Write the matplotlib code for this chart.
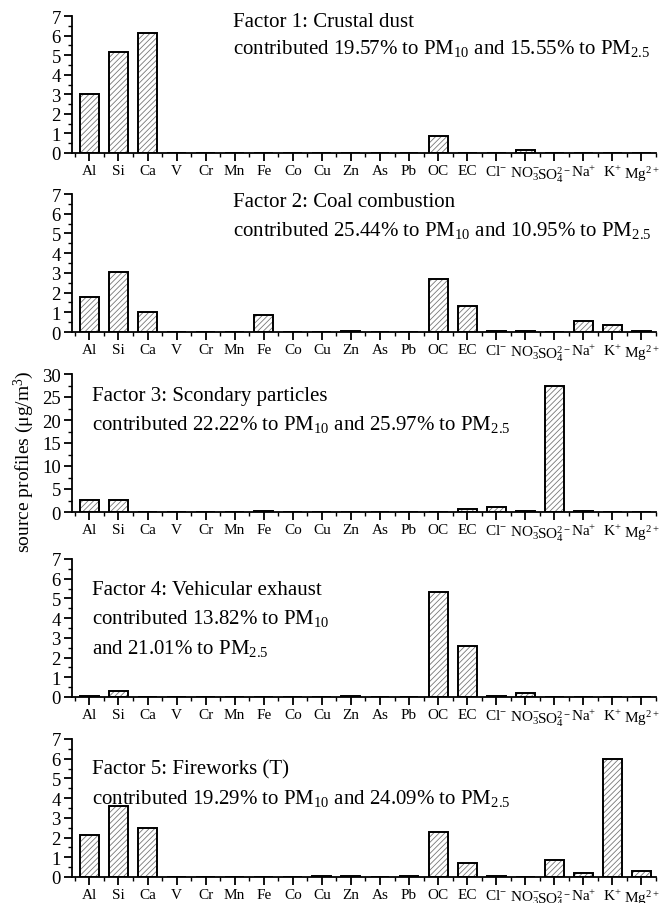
import matplotlib
matplotlib.use("Agg")
import matplotlib.pyplot as plt
import numpy as np

plt.rcParams['font.family'] = ['Liberation Serif', 'DejaVu Serif']
plt.rcParams['mathtext.fontset'] = 'custom'
plt.rcParams['mathtext.rm'] = 'Liberation Serif'
plt.rcParams['mathtext.it'] = 'Liberation Serif:italic'
plt.rcParams['hatch.linewidth'] = 0.6

species = ['Al', 'Si', 'Ca', 'V', 'Cr', 'Mn', 'Fe', 'Co', 'Cu', 'Zn', 'As', 'Pb',
           'OC', 'EC', 'Cl$^{-}$', 'NO$_3^{-}$', 'SO$_4^{2-}$', 'Na$^{+}$', 'K$^{+}$', 'Mg$^{2+}$']

#              Al    Si    Ca   V  Cr Mn  Fe    Co  Cu    Zn    As  Pb    OC    EC    Cl    NO3   SO4   Na    K     Mg
crustal    = [3.00, 5.15, 6.15, 0, 0, 0, 0.00, 0, 0.00, 0.00, 0, 0.00, 0.85, 0.00, 0.00, 0.15, 0.00, 0.00, 0.00, 0.00]
coal       = [1.80, 3.05, 1.00, 0, 0, 0, 0.85, 0, 0.00, 0.05, 0, 0.00, 2.70, 1.30, 0.05, 0.05, 0.00, 0.55, 0.38, 0.05]
secondary  = [2.60, 2.60, 0.00, 0, 0, 0, 0.30, 0, 0.00, 0.00, 0, 0.00, 0.00, 0.70, 1.00, 0.30, 27.3, 0.30, 0.00, 0.00]
vehicular  = [0.05, 0.30, 0.00, 0, 0, 0, 0.00, 0, 0.00, 0.05, 0, 0.00, 5.35, 2.60, 0.05, 0.22, 0.00, 0.00, 0.00, 0.00]
fireworks  = [2.15, 3.60, 2.50, 0, 0, 0, 0.00, 0, 0.05, 0.05, 0, 0.05, 2.30, 0.70, 0.05, 0.00, 0.85, 0.22, 6.00, 0.30]

profiles = [crustal, coal, secondary, vehicular, fireworks]
ymax = [7, 7, 30, 7, 7]
ystep = [1, 1, 5, 1, 1]

labels = [
    ["Factor 1: Crustal dust",
     "contributed 19.57% to PM$_{10}$ and 15.55% to PM$_{2.5}$"],
    ["Factor 2: Coal combustion",
     "contributed 25.44% to PM$_{10}$ and 10.95% to PM$_{2.5}$"],
    ["Factor 3: Scondary particles",
     "contributed 22.22% to PM$_{10}$ and 25.97% to PM$_{2.5}$"],
    ["Factor 4: Vehicular exhaust",
     "contributed 13.82% to PM$_{10}$",
     "and 21.01% to PM$_{2.5}$"],
    ["Factor 5: Fireworks (T)",
     "contributed 19.29% to PM$_{10}$ and 24.09% to PM$_{2.5}$"],
]
label_x = [0.276, 0.276, 0.034, 0.034, 0.034]
label_y = [[0.98, 0.79], [0.965, 0.76], [0.86, 0.66], [0.80, 0.595, 0.38], [0.80, 0.595]]

# axes boxes in figure pixels (y of zero line, y of top)
W, H = 661, 904
boxes = [(154, 17), (333, 195), (513, 375), (698, 560), (878, 740)]

fig = plt.figure(figsize=(W / 100, H / 100), dpi=100)
x = np.arange(len(species))

for k, prof in enumerate(profiles):
    y0, y1 = boxes[k]
    ax = fig.add_axes([72 / W, 1 - y0 / H, 584 / W, (y0 - y1) / H])
    ax.bar(x, prof, width=0.65, color='white', edgecolor='#777777',
           hatch='//////', linewidth=0)
    ax.bar(x, prof, width=0.65, fill=False, edgecolor='black', linewidth=1.4)
    ax.set_xlim(-0.6, 19.45)
    ax.set_ylim(0, ymax[k])
    ax.set_yticks(np.arange(0, ymax[k] + 0.1, ystep[k]))
    ax.set_yticks(np.arange(0, ymax[k] + 0.1, ystep[k] / 2), minor=True)
    ax.set_xticks(x)
    ax.set_xticks(np.arange(-0.5, 19.6, 1), minor=True)
    ax.set_xticklabels(species)
    for s in ['top', 'right']:
        ax.spines[s].set_visible(False)
    for s in ['left', 'bottom']:
        ax.spines[s].set_linewidth(1.3)
    ax.tick_params(which='major', direction='out', length=6, width=1.3,
                   labelsize=13.5, pad=2)
    ax.tick_params(which='minor', direction='out', length=3, width=1.0)
    ax.tick_params(axis='x', labelsize=11, pad=2)
    for t, ty in zip(labels[k], label_y[k]):
        ax.text(label_x[k], ty, t, transform=ax.transAxes, fontsize=15,
                va='center_baseline', ha='left')

fig.text(24 / W, 1 - 462 / H, 'source profiles (μg/m$^3$)', rotation=90,
         fontsize=14, va='center', ha='center')

fig.savefig('out.png', dpi=100)
